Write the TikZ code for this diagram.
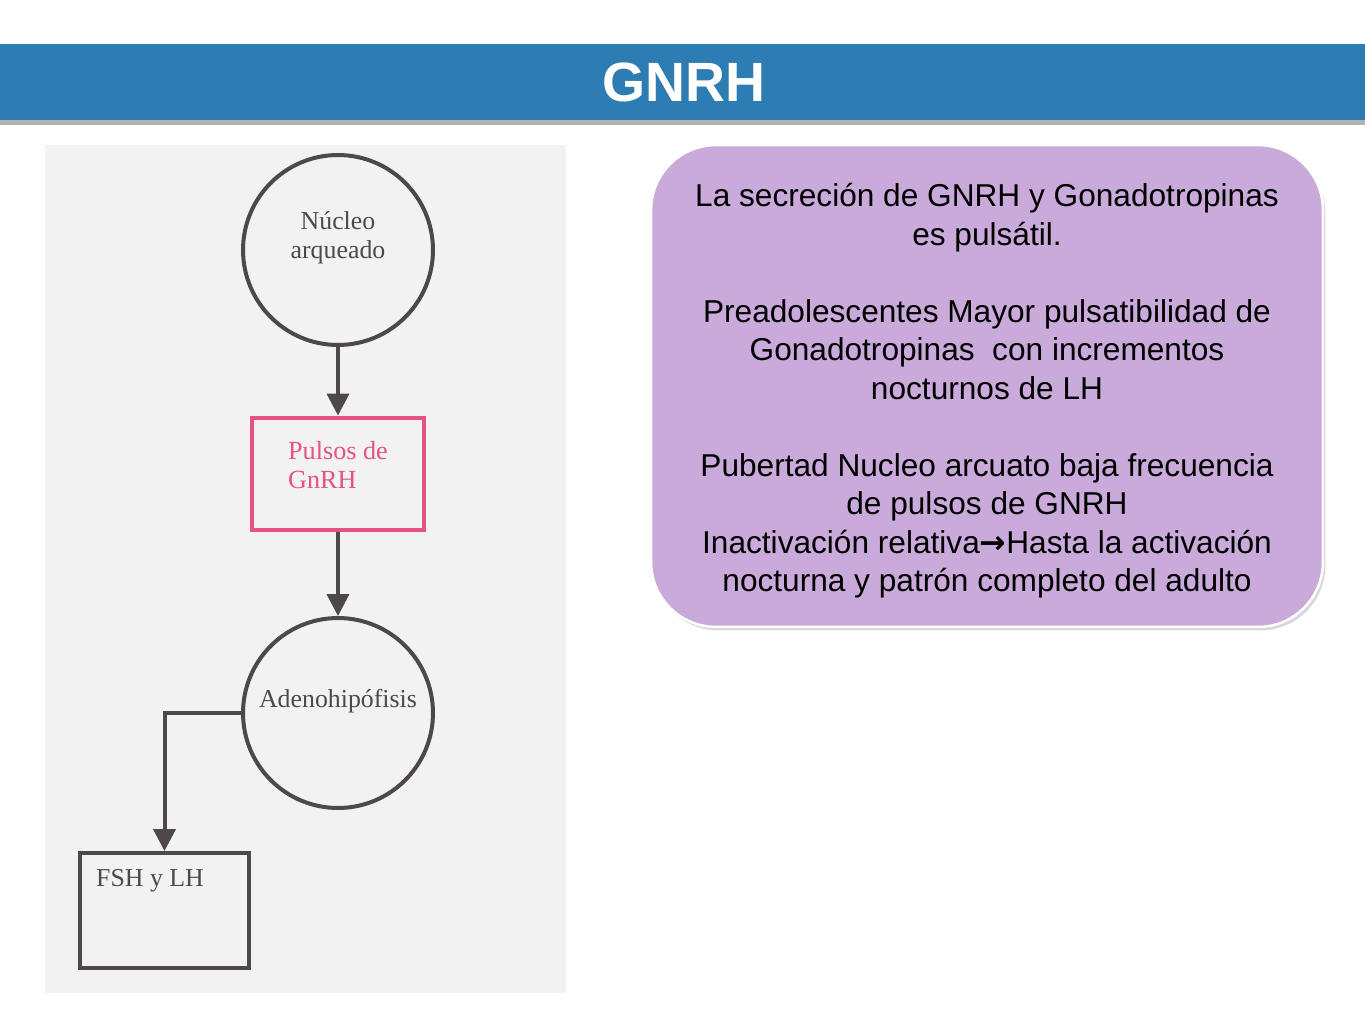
\documentclass[tikz,border=0pt]{standalone}
\usepackage{fontspec}
\setmainfont{Liberation Serif}
\setsansfont{Liberation Sans}
\newfontfamily\flechafont{DejaVu Sans}
\usetikzlibrary{arrows.meta,shadows}

\definecolor{azulbanda}{RGB}{46,125,178}
\definecolor{grisescaneo}{RGB}{242,242,242}
\definecolor{grislinea}{RGB}{78,72,76}
\definecolor{rosa}{RGB}{228,82,136}
\definecolor{lila}{RGB}{201,170,218}

\tikzset{
  circulo/.style={circle, draw=grislinea, line width=0.08cm, minimum size=3.8cm,
    align=center, text=grislinea, font=\fontsize{14.7}{16.5}\selectfont},
  caja/.style={rectangle, draw=grislinea, line width=0.08cm},
  flecha/.style={draw=grislinea, line width=0.08cm,
    -{Triangle[width=0.44cm,length=0.44cm]}},
}

\begin{document}
\begin{tikzpicture}[x=0.02cm,y=-0.02cm]
      \useasboundingbox [fill=white] (0,0) rectangle (1365,1024);
      % banda del titulo
      \fill [black!30] (0,47) rectangle (1365,125);
      \fill [azulbanda] (0,44) rectangle (1365,120);
      \node (titulo) [white, font=\sffamily\bfseries\fontsize{31.5}{36}\selectfont] at (684,82) {GNRH};
      % esquema escaneado
      \fill [grisescaneo] (45,145) rectangle (566,993);
      \node (nucleo) [circulo] at (338,250) {Núcleo\\arqueado\\~};
      \node (pulsos) [rectangle, draw=rosa, line width=0.08cm, minimum width=3.44cm, minimum height=2.26cm,
        align=left, text=rosa, font=\fontsize{14.9}{16.5}\selectfont] at (338,474) {Pulsos de\\GnRH\\[-6pt]};
      \node (adeno) [circulo] at (338,713) {Adenohipófisis\\~};
      \node (fsh) [caja, minimum width=3.38cm, minimum height=2.3cm] at (164.5,910.5) {};
      \node (fshtexto) [anchor=west, text=grislinea, font=\fontsize{14.7}{16.5}\selectfont] at (90,881) {FSH y LH};
      \draw [flecha] (nucleo) -- (pulsos);
      \draw [flecha] (pulsos) -- (adeno);
      \draw [flecha] (adeno.west) -| (fsh.north);
      % cuadro de texto
      \node (cuadro) [rectangle, rounded corners=1.3cm, fill=lila, draw=white, line width=0.05cm,
        minimum width=13.44cm, minimum height=9.64cm,
        drop shadow={shadow xshift=0.05cm, shadow yshift=-0.07cm, opacity=0.3},
        align=center, font=\sffamily\fontsize{18}{21.9}\selectfont] at (987,386) {};
      \node (texto) [align=center, font=\sffamily\fontsize{18}{21.9}\selectfont] at (987,391) {%
        La secreción de GNRH y Gonadotropinas\\
        es pulsátil.\\[21.9pt]
        Preadolescentes Mayor pulsatibilidad de\\
        Gonadotropinas\ \ con incrementos\\
        nocturnos de LH\\[21.9pt]
        Pubertad Nucleo arcuato baja frecuencia\\
        de pulsos de GNRH\\
        Inactivación relativa{\flechafont\bfseries →}Hasta la activación\\
        nocturna y patrón completo del adulto};
\end{tikzpicture}
\end{document}
